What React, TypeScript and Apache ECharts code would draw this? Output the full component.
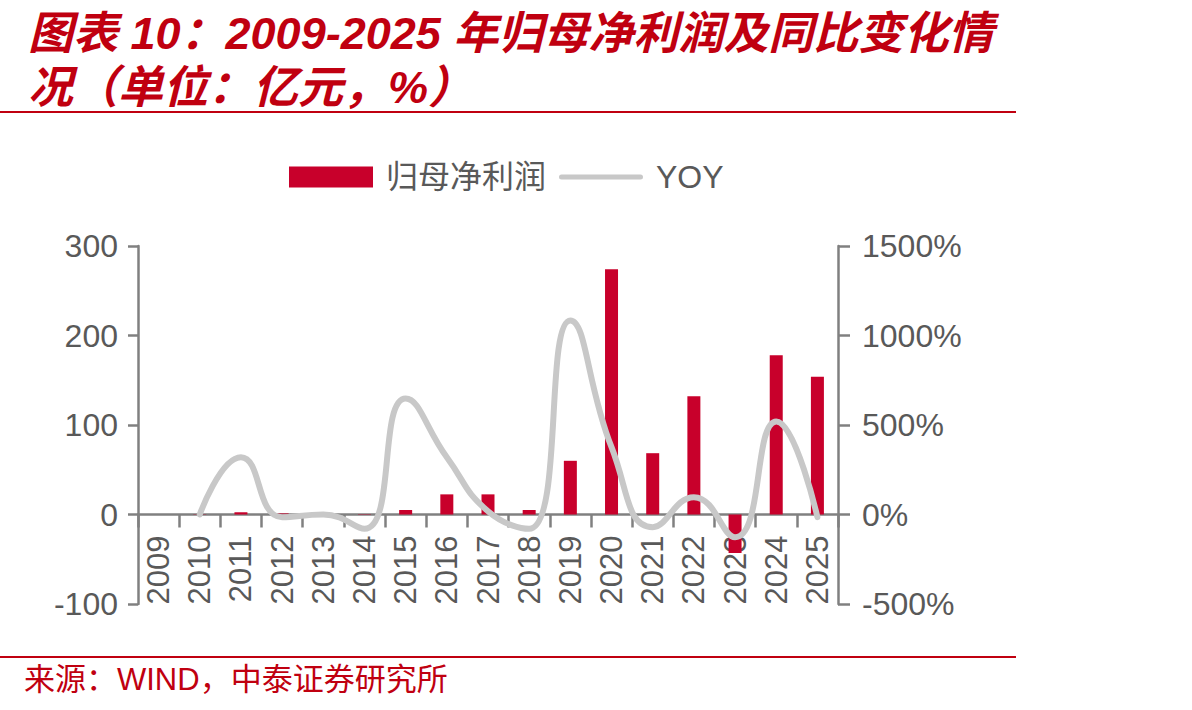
import React, { useEffect, useRef } from "react";
import * as echarts from "echarts";

// 年份
const years = [
  "2009", "2010", "2011", "2012", "2013", "2014", "2015", "2016", "2017",
  "2018", "2019", "2020", "2021", "2022", "2023", "2024", "2025",
];

// 归母净利润（亿元）
const netProfit = [
  0, 0.3, 2.5, 1.2, 1.6, 0.4, 5, 22.5, 22.5, 5, 60, 274, 68.5, 132, -43, 178, 154,
];

// 同比变化（%），2009 年无数据
const yoy: (number | string)[] = [
  "-", 0, 320, -15, 0, -80, 648, 320, 18, -80, 1084, 376, -71, 97, -127, 520, -15,
];

const leftTicks = { min: -100, max: 300, interval: 100 };
const rightTicks = { min: -500, max: 1500, interval: 500 };

const titleText = "图表 10：2009-2025 年归母净利润及同比变化情\n况（单位：亿元，%）";
const sourceText = "来源：WIND，中泰证券研究所";

const RED = "#c00010";
const BAR = "#c8002b";
const AXIS = "#808080";
const LABEL = "#595959";
const SANS = "'Liberation Sans', Arial, 'Noto Sans CJK SC', sans-serif";

const GRID = { left: 138, right: 354, top: 246, bottom: 106 };
const CHART_H = 710;

// 细线图例图标（外框 84×21，中间一条带圆头的 5px 线）
const LINE_ICON =
  "path://M0,0 M2.5,8 L81.5,8 A2.5,2.5 0 0 1 81.5,13 L2.5,13 A2.5,2.5 0 0 1 2.5,8 Z M84,21";

export default function App() {
  const ref = useRef<HTMLDivElement>(null);

  useEffect(() => {
    if (!ref.current) return;
    const chart = echarts.init(ref.current, undefined, { renderer: "svg" });

    // 横轴放在左轴 0 值处：从绘图区底边向上平移
    const plotH = CHART_H - GRID.top - GRID.bottom;
    const zeroOffset =
      (plotH * (0 - leftTicks.min)) / (leftTicks.max - leftTicks.min);

    chart.setOption({
      animation: false,
      backgroundColor: "#ffffff",
      textStyle: { fontFamily: SANS },
      graphic: [
        {
          type: "text",
          left: 28,
          top: 6,
          style: {
            text: titleText,
            fill: RED,
            font: `italic bold 45px ${SANS}`,
            lineHeight: 54,
          },
        },
        {
          type: "line",
          shape: { x1: 0, y1: 112, x2: 1016, y2: 112 },
          style: { stroke: RED, lineWidth: 2 },
        },
        {
          type: "line",
          shape: { x1: 0, y1: 657, x2: 1016, y2: 657 },
          style: { stroke: RED, lineWidth: 2 },
        },
        {
          type: "text",
          left: 24,
          top: 664,
          style: {
            text: sourceText,
            fill: RED,
            font: `31px ${SANS}`,
          },
        },
      ],
      legend: {
        left: 284,
        top: 156,
        itemWidth: 84,
        itemHeight: 21,
        itemGap: 13,
        textStyle: { fontSize: 32, color: LABEL, fontFamily: SANS, padding: [0, 0, 0, 8] },
        data: [
          { name: "归母净利润", icon: "rect" },
          { name: "YOY", icon: LINE_ICON },
        ],
      },
      grid: { ...GRID, containLabel: false },
      xAxis: {
        type: "category",
        data: years,
        boundaryGap: true,
        position: "bottom",
        offset: -zeroOffset,
        axisLine: { onZero: false, lineStyle: { color: AXIS, width: 2.5 } },
        axisTick: { show: true, alignWithLabel: false, interval: 0, length: 13, lineStyle: { color: AXIS, width: 2.5 } },
        axisLabel: { interval: 0, rotate: 90, margin: 21, fontSize: 31, color: LABEL, fontFamily: SANS },
        splitLine: { show: false },
      },
      yAxis: [
        {
          type: "value",
          position: "left",
          ...leftTicks,
          axisLine: { show: true, lineStyle: { color: AXIS, width: 2.5 } },
          axisTick: { show: true, length: 10, lineStyle: { color: AXIS, width: 2.5 } },
          axisLabel: { margin: 20, fontSize: 32, color: LABEL, fontFamily: SANS },
          splitLine: { show: false },
        },
        {
          type: "value",
          position: "right",
          ...rightTicks,
          axisLine: { show: true, lineStyle: { color: AXIS, width: 2.5 } },
          axisTick: { show: true, length: 12, lineStyle: { color: AXIS, width: 2.5 } },
          axisLabel: {
            margin: 24,
            fontSize: 32,
            color: LABEL,
            fontFamily: SANS,
            formatter: (v: number) => `${v}%`,
          },
          splitLine: { show: false },
        },
      ],
      series: [
        {
          name: "归母净利润",
          type: "bar",
          yAxisIndex: 0,
          barWidth: 13,
          itemStyle: { color: BAR },
          data: netProfit,
        },
        {
          name: "YOY",
          type: "line",
          yAxisIndex: 1,
          smooth: 0.5,
          symbol: "none",
          showSymbol: false,
          lineStyle: { color: "#c8c8c8", width: 6, cap: "round" },
          itemStyle: { color: "#c8c8c8" },
          data: yoy,
        },
      ],
    });
    return () => chart.dispose();
  }, []);

  return (
    <div
      ref={ref}
      style={{ position: "absolute", left: 0, top: 0, width: 1192, height: CHART_H }}
    />
  );
}
